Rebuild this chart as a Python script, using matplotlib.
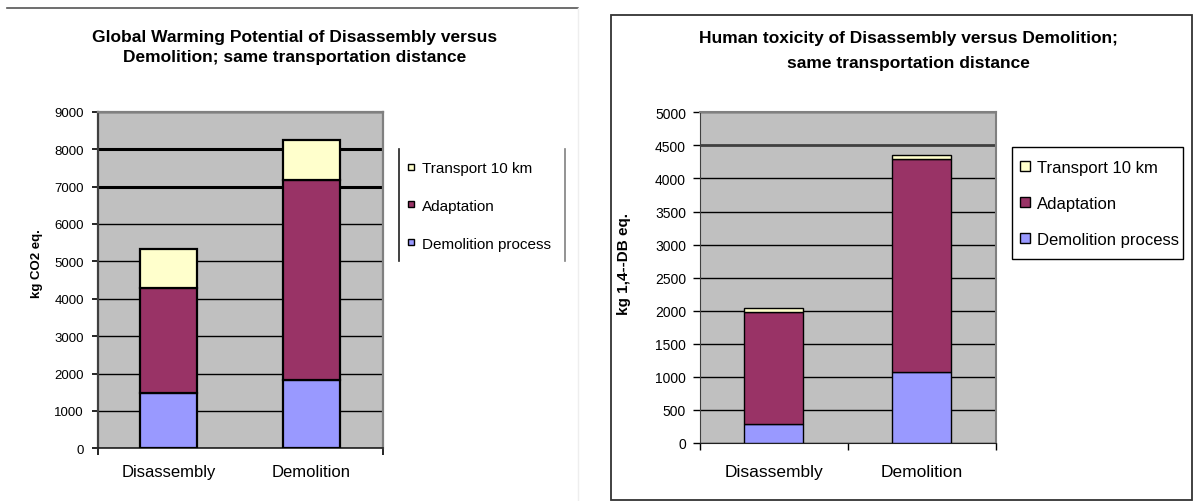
import matplotlib
matplotlib.use("Agg")
import matplotlib.pyplot as plt
from matplotlib.lines import Line2D
from matplotlib.patches import Rectangle
import numpy as np

plt.rcParams['font.family'] = ['Liberation Sans', 'DejaVu Sans']

categories = ["Disassembly", "Demolition"]
series = ["Demolition process", "Adaptation", "Transport 10 km"]
colors = ["#9999FF", "#993366", "#FFFFCC"]

# global warming potential, kg CO2 eq.
gwp_demolition = [1470, 1830]
gwp_adaptation = [2815, 5340]
gwp_transport = [1045, 1075]

# human toxicity, kg 1,4-DB eq.
htp_demolition = [285, 1080]
htp_adaptation = [1690, 3210]
htp_transport = [65, 65]

W, H = 1194, 502
fig = plt.figure(figsize=(W / 100, H / 100), dpi=100)
fig.patch.set_facecolor("white")


def fx(px):
    return px / W


def fy(py):
    return 1 - py / H


def stacked(ax, values, edge_lw):
    x = np.arange(len(categories))
    bottom = np.zeros(len(categories))
    for vals, col in zip(values, colors):
        ax.bar(x, vals, width=0.4, bottom=bottom, color=col,
               edgecolor="black", linewidth=edge_lw, zorder=3)
        bottom += np.array(vals)
    ax.set_xlim(-0.5, len(categories) - 0.5)
    ax.set_facecolor("#C0C0C0")
    ax.set_xticks(x)
    ax.set_xticklabels(categories)


# ---- left chart ----
ax1 = fig.add_axes([fx(97.7), fy(449.3), fx(382.7 - 97.7), (449.3 - 112.7) / H])
stacked(ax1, [gwp_demolition, gwp_adaptation, gwp_transport], 1.6)
ax1.set_ylim(0, 9000)
ax1.set_yticks(np.arange(0, 9001, 1000))
ax1.grid(axis="y", color="black", linewidth=1, zorder=1)
ax1.set_axisbelow(True)
for i, gl in enumerate(ax1.get_ygridlines()):
    if i in (7, 8):
        gl.set_linewidth(2.2)
ax1.set_xticks([-0.5, 1.5], minor=True)
ax1.tick_params(axis="x", which="major", length=0, labelsize=12, pad=11)
ax1.tick_params(axis="x", which="minor", length=5, width=1.2)
ax1.tick_params(axis="y", length=4, width=1.2, labelsize=9.5, pad=6)
ax1.spines["left"].set_color("#404040")
ax1.spines["left"].set_linewidth(1.6)
ax1.spines["bottom"].set_color("#202020")
ax1.spines["bottom"].set_linewidth(1.2)
for s in ("top", "right"):
    ax1.spines[s].set_color("#808080")
    ax1.spines[s].set_linewidth(1.6)

fig.text(fx(295), fy(47.5),
         "Global Warming Potential of Disassembly versus\nDemolition; same transportation distance",
         ha="center", va="center", fontsize=12.5, fontweight="bold", linespacing=1.36)
fig.text(fx(37), fy(264), "kg CO2 eq.", rotation=90, ha="center", va="center",
         fontsize=9.5, fontweight="bold")

handles1 = [Line2D([], [], marker="s", linestyle="none", markersize=4.5,
                   markerfacecolor=c, markeredgecolor="black", markeredgewidth=1)
            for c in colors][::-1]
leg1 = ax1.legend(handles1, series[::-1], loc="upper left",
                  bbox_to_anchor=(fx(399.3), fy(154)), bbox_transform=fig.transFigure,
                  frameon=False, fontsize=11, borderpad=0.52, borderaxespad=0,
                  handlelength=0.5, handletextpad=0.45, labelspacing=1.56)
for xline in (399.3, 565.3):
    fig.add_artist(Line2D([fx(xline)] * 2, [fy(150), fy(261.7)],
                          color="#202020" if xline < 400 else "#808080", linewidth=1.2))

fig.add_artist(Line2D([fx(7), fx(578)], [fy(9.3)] * 2, color="#555555", linewidth=1.2))
fig.add_artist(Line2D([fx(578)] * 2, [fy(9.3), 0], color="#eeeeee", linewidth=1))

# ---- right chart ----
fig.add_artist(Rectangle((fx(611), fy(500.7)), fx(1192.3 - 611), (500.7 - 15.7) / H,
                         fill=False, edgecolor="#333333", linewidth=1.3,
                         transform=fig.transFigure))

ax2 = fig.add_axes([fx(700), fy(444), fx(995.5 - 700), (444 - 113.3) / H])
stacked(ax2, [htp_demolition, htp_adaptation, htp_transport], 1.0)
ax2.set_ylim(0, 5000)
ax2.set_yticks(np.arange(0, 5001, 500))
ax2.grid(axis="y", color="black", linewidth=1, zorder=1)
ax2.set_axisbelow(True)
for i, gl in enumerate(ax2.get_ygridlines()):
    if i == 9:
        gl.set_linewidth(2)
        gl.set_color("#404040")
ax2.set_xticks([-0.5, 0.5, 1.5], minor=True)
ax2.tick_params(axis="x", which="major", length=0, labelsize=12.5, pad=15)
ax2.tick_params(axis="x", which="minor", length=5, width=1)
ax2.tick_params(axis="y", length=5, width=1, labelsize=10, pad=5)
ax2.spines["left"].set_color("#404040")
ax2.spines["bottom"].set_color("#202020")
for s in ("top", "right"):
    ax2.spines[s].set_color("#808080")
    ax2.spines[s].set_linewidth(1.5)

fig.text(fx(908.5), fy(51),
         "Human toxicity of Disassembly versus Demolition;\nsame transportation distance",
         ha="center", va="center", fontsize=12.5, fontweight="bold", linespacing=1.78)
fig.text(fx(624), fy(264), "kg 1,4--DB eq.", rotation=90, ha="center", va="center",
         fontsize=11, fontweight="bold")

handles2 = [Line2D([], [], marker="s", linestyle="none", markersize=7,
                   markerfacecolor=c, markeredgecolor="black", markeredgewidth=1)
            for c in colors][::-1]
leg2 = ax2.legend(handles2, series[::-1], loc="upper left",
                  bbox_to_anchor=(fx(1011.7), fy(153)), bbox_transform=fig.transFigure,
                  frameon=False, fontsize=12, borderpad=0.5,
                  borderaxespad=0, handlelength=0.6, handletextpad=0.4, labelspacing=1.26)
fig.add_artist(Rectangle((fx(1011.7), fy(260)), fx(1183.3 - 1011.7), (260 - 148.3) / H,
                         fill=False, edgecolor="black", linewidth=1,
                         transform=fig.transFigure))

fig.savefig("out.png", dpi=100, facecolor="white")
